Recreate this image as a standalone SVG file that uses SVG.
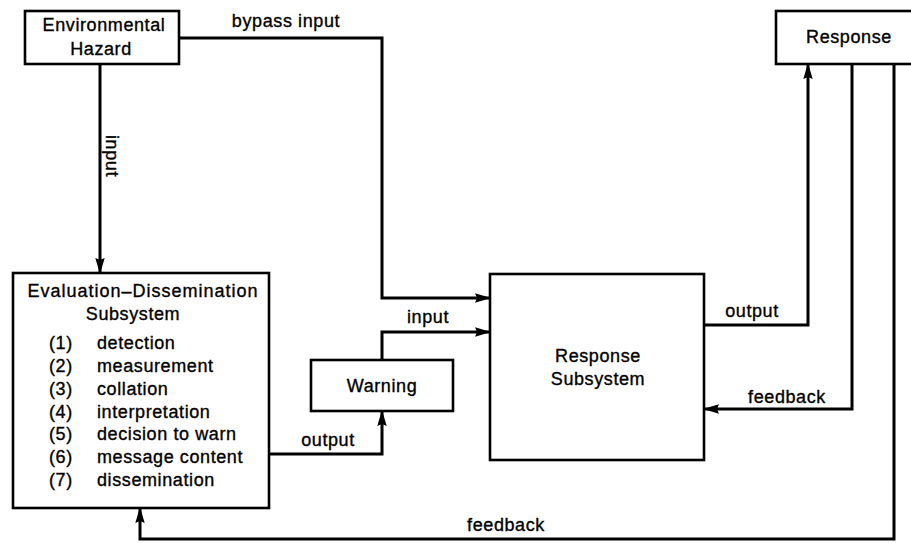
<svg xmlns="http://www.w3.org/2000/svg" width="911" height="543" viewBox="0 0 911 543">
  <style>
    .box { fill: #fff; stroke: #000; stroke-width: 2.6; }
    .wire { fill: none; stroke: #000; stroke-width: 3; stroke-linejoin: miter; }
    text { font-family: "Liberation Sans", Arial, sans-serif; font-size: 18px; fill: #000; stroke: #000; stroke-width: 0.35; letter-spacing: 0.6px; }
    .c { text-anchor: middle; }
  </style>
  <defs>
    <marker id="arrow" markerUnits="userSpaceOnUse" markerWidth="16" markerHeight="11" refX="15" refY="5.5" orient="auto">
      <path d="M0,0.8 L16,5.5 L0,10.2 L2,5.5 z" fill="#000"/>
    </marker>
  </defs>

  <rect width="911" height="543" fill="#fff"/>

  <!-- connectors -->
  <g id="connectors">
    <path class="wire" d="M100,64 V273" marker-end="url(#arrow)"/>
    <path class="wire" d="M179,38 H382 V298 H490" marker-end="url(#arrow)"/>
    <path class="wire" d="M269,454 H382 V411" marker-end="url(#arrow)"/>
    <path class="wire" d="M382,360 V332 H490" marker-end="url(#arrow)"/>
    <path class="wire" d="M704,325 H808 V64" marker-end="url(#arrow)"/>
    <path class="wire" d="M852,64 V409 H704" marker-end="url(#arrow)"/>
    <path class="wire" d="M894,64 V539 H140 V508" marker-end="url(#arrow)"/>
  </g>

  <!-- connector labels -->
  <g id="labels">
    <text x="286" y="27" class="c">bypass input</text>
    <text transform="translate(106,156) rotate(90)" class="c">input</text>
    <text x="328" y="446" class="c">output</text>
    <text x="428" y="323" class="c">input</text>
    <text x="752" y="317" class="c">output</text>
    <text x="787" y="403" class="c">feedback</text>
    <text x="506" y="531" class="c">feedback</text>
  </g>

  <g id="environmental-hazard">
    <rect class="box" x="25" y="11" width="154" height="53"/>
    <text x="104" y="31" class="c">Environmental</text>
    <text x="101" y="55" class="c">Hazard</text>
  </g>

  <g id="evaluation-dissemination">
    <rect class="box" x="13" y="273" width="256" height="235"/>
    <text x="143" y="297" class="c" style="letter-spacing:1px">Evaluation–Dissemination</text>
    <text x="133" y="320" class="c">Subsystem</text>
    <text x="49" y="349">(1)</text><text x="97" y="349">detection</text>
    <text x="49" y="372">(2)</text><text x="97" y="372">measurement</text>
    <text x="49" y="395">(3)</text><text x="97" y="395">collation</text>
    <text x="49" y="418">(4)</text><text x="97" y="418">interpretation</text>
    <text x="49" y="440">(5)</text><text x="97" y="440">decision to warn</text>
    <text x="49" y="463">(6)</text><text x="97" y="463">message content</text>
    <text x="49" y="486">(7)</text><text x="97" y="486">dissemination</text>
  </g>

  <g id="warning">
    <rect class="box" x="311" y="360" width="142" height="51"/>
    <text x="382" y="392" class="c">Warning</text>
  </g>

  <g id="response-subsystem">
    <rect class="box" x="490" y="274" width="214" height="186"/>
    <text x="598" y="362" class="c">Response</text>
    <text x="598" y="385" class="c">Subsystem</text>
  </g>

  <g id="response">
    <rect class="box" x="776" y="11" width="145" height="53"/>
    <text x="849" y="43" class="c">Response</text>
  </g>
</svg>
